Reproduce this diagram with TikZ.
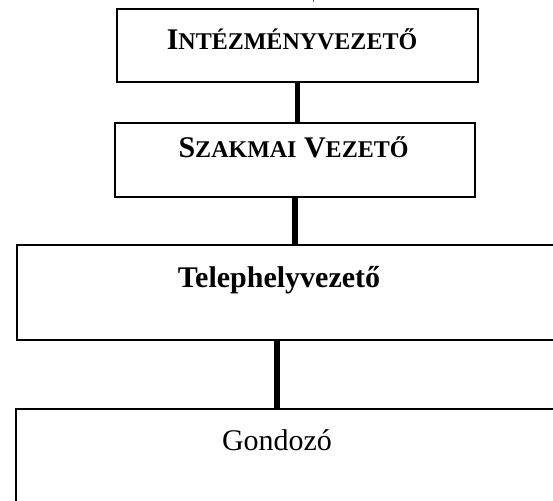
\documentclass[tikz,border=0pt]{standalone}
\usepackage{fontspec}
\setmainfont{Liberation Serif}
\tikzset{
  box/.style={draw=black, line width=2pt, rectangle, inner sep=0pt, outer sep=0pt, anchor=north west},
  lbl/.style={anchor=base, inner sep=0pt, font=\fontsize{30}{36}\selectfont},
  conn/.style={line width=5.5pt, black},
}
\newcommand{\bigc}[1]{{\fontsize{30}{36}\selectfont #1}}
\newcommand{\smc}[1]{{\fontsize{24}{29}\selectfont #1}}
\begin{document}
\begin{tikzpicture}[x=1pt,y=-1pt]
\useasboundingbox (0,0) rectangle (553,500);
\clip (0,0) rectangle (553,500);
\node[box, minimum width=361pt, minimum height=73pt] (b1) at (117,9) {};
\node[box, minimum width=360pt, minimum height=74pt] (b2) at (115,123) {};
\node[box, minimum width=543pt, minimum height=95pt] (b3) at (17,245) {};
\node[box, minimum width=544pt, minimum height=101pt] (b4) at (16,409) {};
\node[lbl] (t1) at (292,50) {\bfseries\bigc{I}\smc{NTÉZMÉNYVEZETŐ}};
\node[lbl] (t2) at (293.5,157) {\bfseries\bigc{S}\smc{ZAKMAI} \bigc{V}\smc{EZETŐ}};
\node[lbl] (t3) at (279,287) {\bfseries Telephelyvezető};
\node[lbl] (t4) at (277,450) {Gondozó};
\draw[conn] (b1.south) -- (b1.south |- b2.north);
\draw[conn] (b2.south) -- (b2.south |- b3.north);
\draw[conn] (t4.north |- b3.south) -- (t4.north |- b4.north);
\coordinate (m1) at (313,0);
\coordinate (m2) at (313,2.5);
\draw[black!60, line width=1pt] (m1) -- (m2);
\end{tikzpicture}
\end{document}
